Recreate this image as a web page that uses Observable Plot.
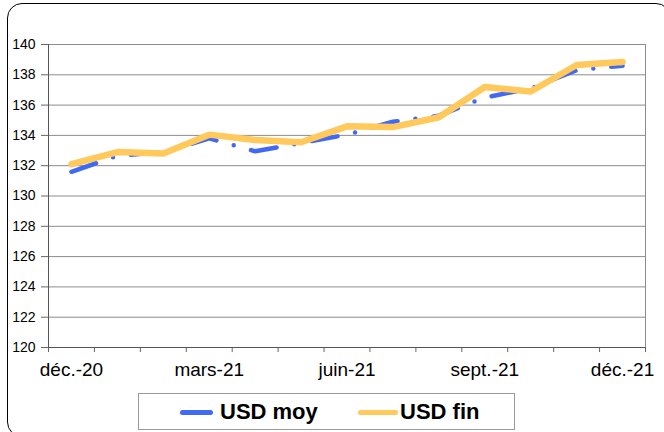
<!DOCTYPE html>
<html>
<head>
<meta charset="utf-8">
<script src="https://cdn.jsdelivr.net/npm/d3@7"></script>
<script src="https://cdn.jsdelivr.net/npm/@observablehq/plot@0.6"></script>
<style>
  html, body { margin: 0; padding: 0; background: #fff; }
  #wrap { position: relative; width: 664px; height: 432px; overflow: hidden; font-family: "Liberation Sans", Arial, sans-serif; }
  #frame { position: absolute; left: 7px; top: 3px; width: 664px; height: 434px; border: 1.5px solid #000; border-radius: 15px; box-sizing: border-box; pointer-events: none; }
  #chart { position: absolute; left: 0; top: 0; }
  #legend { position: absolute; left: 138px; top: 393px; width: 377px; height: 37px; border: 1px solid #9a9a9a; box-sizing: border-box; background: #fff; }
  .sw { position: absolute; height: 5px; border-radius: 3px; top: 16px; }
  .lt { position: absolute; top: 5px; font-weight: bold; font-size: 22px; color: #000; white-space: nowrap; }
</style>
</head>
<body>
<div id="wrap">
  <div id="chart"></div>
  <div id="frame"></div>
  <div id="legend"></div>
</div>
<script>
const months = ["déc.-20","janv.-21","févr.-21","mars-21","avr.-21","mai-21","juin-21","juil.-21","août-21","sept.-21","oct.-21","nov.-21","déc.-21"];
const usdMoy = [131.6, 132.65, 132.9, 133.8, 132.95, 133.5, 134.05, 134.9, 135.3, 136.5, 137.1, 138.3, 138.6];
const usdFin = [132.1, 132.9, 132.8, 134.05, 133.7, 133.55, 134.6, 134.55, 135.2, 137.2, 136.9, 138.65, 138.85];
const yTicks = [120,122,124,126,128,130,132,134,136,138,140];
const xLabelIdx = [0,3,6,9,12];
const seriesNames = ["USD moy", "USD fin"];
const colors = ["#4169F2", "#FFC95C"];

const moyData = months.map((m, i) => ({i, v: usdMoy[i]}));
const finData = months.map((m, i) => ({i, v: usdFin[i]}));
const boundaries = d3.range(months.length + 1).map(k => k - 0.5);

const chart = Plot.plot({
  width: 664,
  height: 432,
  marginLeft: 48,
  marginRight: 19,
  marginTop: 44,
  marginBottom: 85,
  style: {fontFamily: "Liberation Sans, Arial, sans-serif", background: "transparent"},
  x: {type: "linear", domain: [-0.5, months.length - 0.5]},
  y: {domain: [120, 140]},
  marks: [
    Plot.ruleY(yTicks, {stroke: "#8c8c8c", strokeWidth: 1, strokeOpacity: 1}),
    Plot.ruleX([months.length - 0.5], {stroke: "#8c8c8c", strokeWidth: 1}),
    Plot.axisY({ticks: yTicks, tickSize: 7, tickPadding: 6, fontSize: 14, stroke: "#666", color: "#000", label: null, tickFormat: d => d}),
    Plot.axisX({ticks: boundaries, tickSize: 5, tickFormat: () => "", stroke: "#666", label: null}),
    Plot.axisX({ticks: xLabelIdx, tickSize: 0, tickPadding: 15, fontSize: 19, color: "#000", tickFormat: i => months[i], label: null}),
    Plot.ruleX([-0.5], {stroke: "#555", strokeWidth: 1}),
    Plot.ruleY([120], {stroke: "#555", strokeWidth: 1}),
    Plot.line(moyData, {x: "i", y: "v", stroke: colors[0], strokeWidth: 4.5, strokeLinecap: "round", strokeLinejoin: "round", strokeDasharray: "26,18,0,18"}),
    Plot.line(finData, {x: "i", y: "v", stroke: colors[1], strokeWidth: 6.5, strokeLinecap: "round", strokeLinejoin: "round"})
  ]
});
document.getElementById("chart").appendChild(chart);

const legend = document.getElementById("legend");
const items = [
  {name: seriesNames[0], color: colors[0], sx: 41, sw: 33, tx: 81},
  {name: seriesNames[1], color: colors[1], sx: 219, sw: 40, tx: 261}
];
items.forEach(it => {
  const s = document.createElement("div");
  s.className = "sw";
  s.style.left = it.sx + "px";
  s.style.width = it.sw + "px";
  s.style.background = it.color;
  legend.appendChild(s);
  const t = document.createElement("div");
  t.className = "lt";
  t.style.left = it.tx + "px";
  t.textContent = it.name;
  legend.appendChild(t);
});
</script>
</body>
</html>
